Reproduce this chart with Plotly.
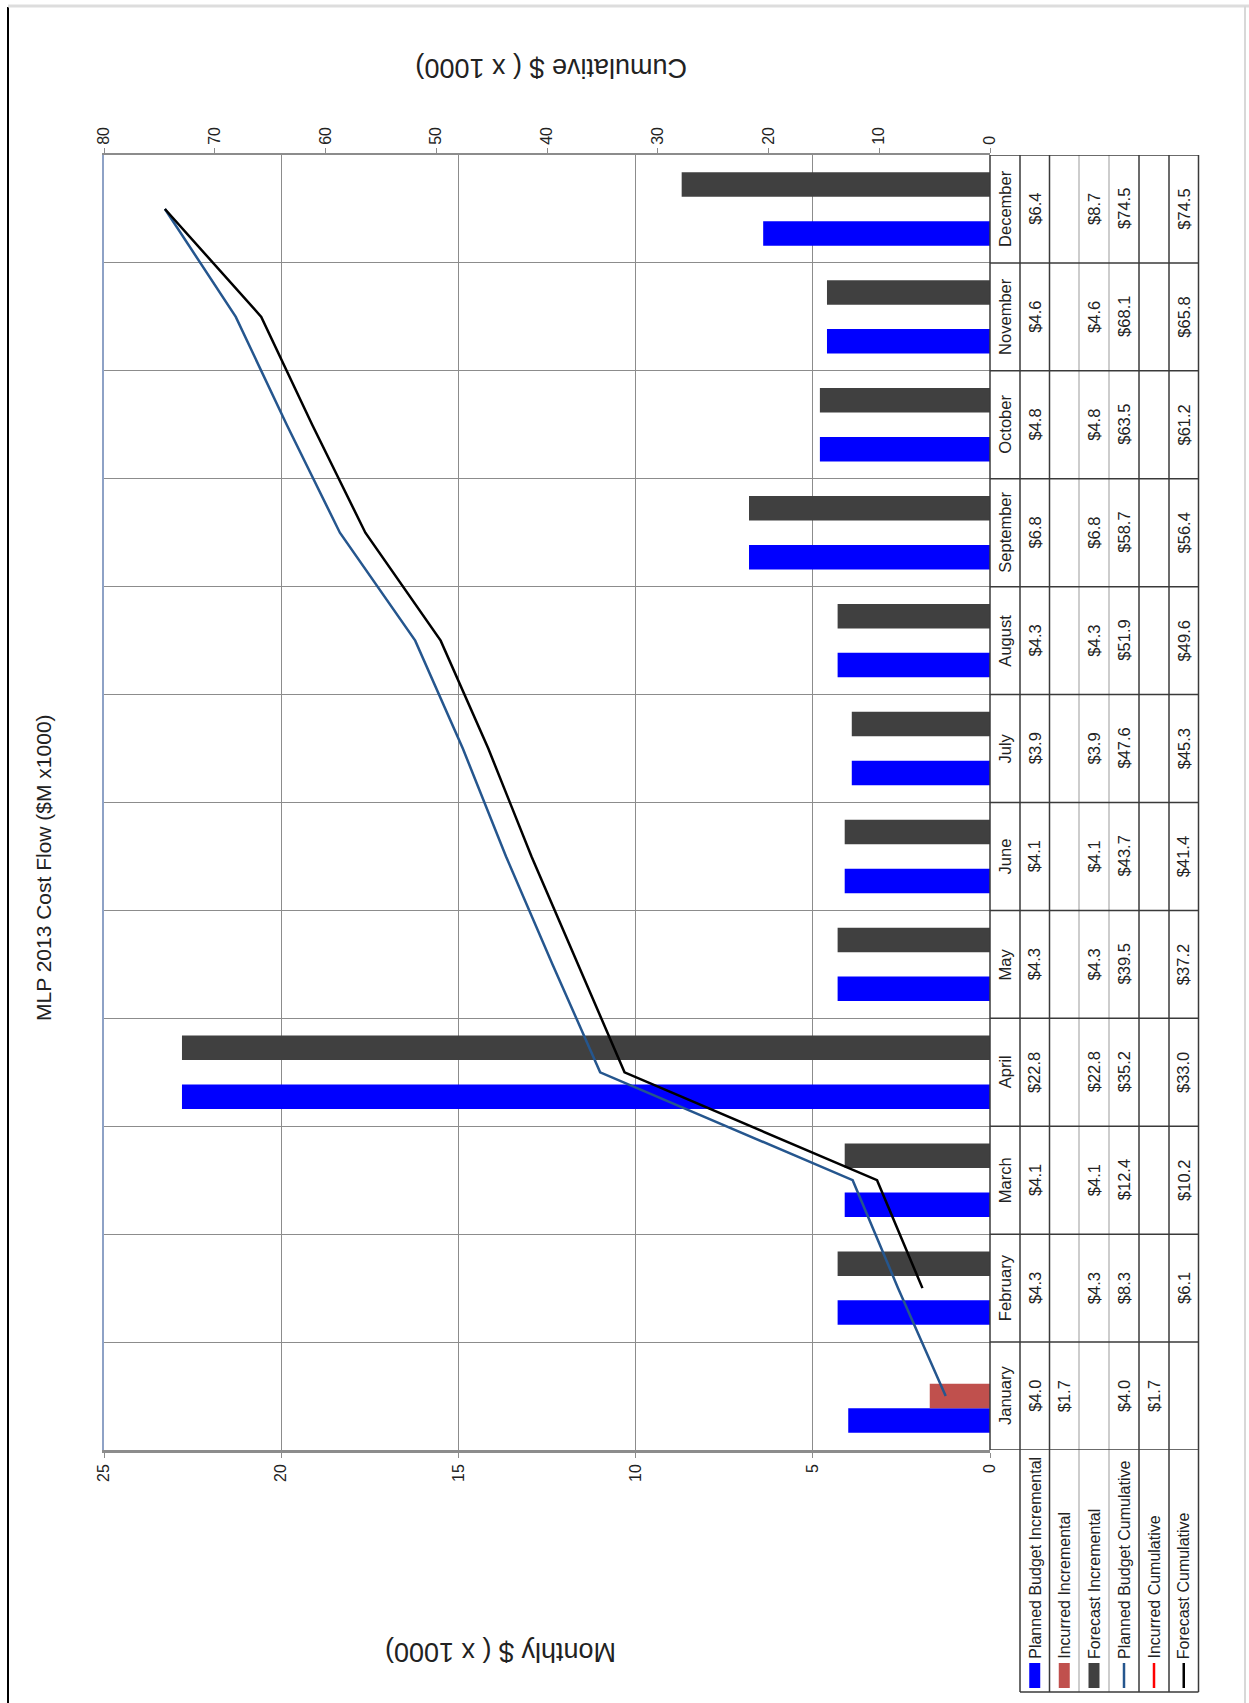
import plotly.graph_objects as go

# ---- data ($M x1000) ----
months = ["January", "February", "March", "April", "May", "June",
          "July", "August", "September", "October", "November", "December"]
planned_inc = [4.0, 4.3, 4.1, 22.8, 4.3, 4.1, 3.9, 4.3, 6.8, 4.8, 4.6, 6.4]
incurred_inc = [1.7, None, None, None, None, None, None, None, None, None, None, None]
forecast_inc = [None, 4.3, 4.1, 22.8, 4.3, 4.1, 3.9, 4.3, 6.8, 4.8, 4.6, 8.7]
planned_cum = [4.0, 8.3, 12.4, 35.2, 39.5, 43.7, 47.6, 51.9, 58.7, 63.5, 68.1, 74.5]
incurred_cum = [1.7, None, None, None, None, None, None, None, None, None, None, None]
forecast_cum = [None, 6.1, 10.2, 33.0, 37.2, 41.4, 45.3, 49.6, 56.4, 61.2, 65.8, 74.5]

series_names = ["Planned Budget Incremental", "Incurred Incremental", "Forecast Incremental",
                "Planned Budget Cumulative", "Incurred Cumulative", "Forecast Cumulative"]
monthly_ticks = [0, 5, 10, 15, 20, 25]
cumulative_ticks = [0, 10, 20, 30, 40, 50, 60, 70, 80]

title_text = "MLP 2013 Cost Flow ($M x1000)"
monthly_title = "Monthly $ ( x 1000)"
cumulative_title = "Cumulative $ ( x 1000)"

# ---- styling ----
FONT = "Liberation Sans, Arial, Helvetica, sans-serif"
C_PLANNED = "#0000FF"
C_INCURRED = "#C0504D"
C_FORECAST = "#404040"
C_PLANNED_CUM = "#25568E"
C_INCURRED_CUM = "#FF0000"
C_FORECAST_CUM = "#000000"
GRID = "#8C8C8C"
TABLE_DARK = "#3A3A3A"
TABLE_LIGHT = "#BDBDBD"
TXT = "#222222"

W, H = 1249, 1703
PX0, PX1 = 104, 990        # plot area left/right (px)
PY0, PY1 = 155, 1450       # plot area top/bottom (px)


def px(x):
    return (x - PX0) / (PX1 - PX0)


def py(y):
    return (PY1 - y) / (PY1 - PY0)


def label(x, y, text, size, angle, xref="paper", yref="paper", yanchor="middle"):
    return dict(x=x, y=y, xref=xref, yref=yref, text=text, textangle=angle,
                showarrow=False, xanchor="center", yanchor=yanchor,
                font=dict(family=FONT, size=size, color=TXT))


fig = go.Figure()

# monthly bars (horizontal, value axis runs right-to-left)
for name, vals, col in [(series_names[0], planned_inc, C_PLANNED),
                        (series_names[1], incurred_inc, C_INCURRED),
                        (series_names[2], forecast_inc, C_FORECAST)]:
    fig.add_trace(go.Bar(x=vals, y=months, orientation="h", name=name,
                         marker=dict(color=col, line=dict(width=0)),
                         xaxis="x", yaxis="y"))

# cumulative lines on the secondary value axis
for name, vals, col in [(series_names[3], planned_cum, C_PLANNED_CUM),
                        (series_names[4], incurred_cum, C_INCURRED_CUM),
                        (series_names[5], forecast_cum, C_FORECAST_CUM)]:
    fig.add_trace(go.Scatter(x=vals, y=months, mode="lines", name=name,
                             line=dict(color=col, width=2.5),
                             xaxis="x2", yaxis="y"))

shapes = []
annotations = []

# data table columns: month name column followed by one column per series
col_edges = [990, 1020, 1049.5, 1079, 1109, 1139, 1169, 1198.5]
col_centers = [(col_edges[i] + col_edges[i + 1]) / 2 for i in range(len(col_edges) - 1)]
light_cols = {3, 4}
TABLE_BOTTOM = 1692

for i, xe in enumerate(col_edges):
    y_end = PY1 if i == 0 else TABLE_BOTTOM
    shapes.append(dict(type="line", xref="paper", yref="paper",
                       x0=px(xe), x1=px(xe), y0=py(PY0), y1=py(y_end),
                       line=dict(color=TABLE_LIGHT if i in light_cols else TABLE_DARK,
                                 width=1.5), layer="above"))

# month boundaries across the table
for k in range(len(months) + 1):
    shapes.append(dict(type="line", xref="paper", yref="y",
                       x0=px(PX1), x1=px(col_edges[-1]), y0=k - 0.5, y1=k - 0.5,
                       line=dict(color=TABLE_DARK, width=1.5), layer="above"))
# legend block border
shapes.append(dict(type="line", xref="paper", yref="paper",
                   x0=px(col_edges[1]), x1=px(col_edges[-1]),
                   y0=py(TABLE_BOTTOM), y1=py(TABLE_BOTTOM),
                   line=dict(color=TABLE_DARK, width=1.5)))

# month names and values in the table
for m in months:
    annotations.append(label(px(col_centers[0]), m, m, 16.5, -90, yref="y"))
table_rows = [planned_inc, incurred_inc, forecast_inc, planned_cum, incurred_cum, forecast_cum]
for r, vals in enumerate(table_rows):
    for m_i, v in enumerate(vals):
        if v is None:
            continue
        annotations.append(label(px(col_centers[r + 1]), months[m_i], f"${v:.1f}", 16.5, -90,
                                 yref="y"))

# legend rows with keys
key_cols = [C_PLANNED, C_INCURRED, C_FORECAST, C_PLANNED_CUM, C_INCURRED_CUM, C_FORECAST_CUM]
for r, name in enumerate(series_names):
    cx = col_centers[r + 1]
    if r < 3:
        shapes.append(dict(type="rect", xref="paper", yref="paper",
                           x0=px(cx - 5.5), x1=px(cx + 5.5), y0=py(1688), y1=py(1663),
                           fillcolor=key_cols[r], line=dict(width=0)))
    else:
        shapes.append(dict(type="line", xref="paper", yref="paper",
                           x0=px(cx), x1=px(cx), y0=py(1688), y1=py(1663),
                           line=dict(color=key_cols[r], width=2.5)))
    annotations.append(label(px(cx), py(1661), name, 16, -90, yanchor="bottom"))

# titles
annotations.append(label(px(43), py(868), title_text, 21, -90))
annotations.append(label(px(551), py(68), cumulative_title, 27, 180))
annotations.append(label(px(501), py(1652), monthly_title, 27, 180))

# page frame
shapes.append(dict(type="line", xref="paper", yref="paper",
                   x0=px(8), x1=px(8), y0=py(7), y1=py(H),
                   line=dict(color="#000000", width=2)))
shapes.append(dict(type="line", xref="paper", yref="paper",
                   x0=px(8), x1=px(W), y0=py(6), y1=py(6),
                   line=dict(color="#DDDDDD", width=3)))
shapes.append(dict(type="line", xref="paper", yref="paper",
                   x0=px(1245), x1=px(1245), y0=py(6), y1=py(H),
                   line=dict(color="#D8D8D8", width=2)))

fig.update_layout(
    width=W, height=H, autosize=False,
    margin=dict(l=PX0, r=W - PX1, t=PY0, b=H - PY1, pad=0),
    paper_bgcolor="white", plot_bgcolor="white",
    barmode="group", bargap=0.32, bargroupgap=0,
    showlegend=False,
    font=dict(family=FONT, color=TXT),
    xaxis=dict(range=[25, 0], tickvals=monthly_ticks, tickangle=-90,
               showgrid=True, gridcolor=GRID, gridwidth=1,
               showline=True, linecolor="#8C8C8C", linewidth=2.5,
               ticks="outside", ticklen=5, tickcolor="#8C8C8C",
               tickfont=dict(family=FONT, size=16, color=TXT),
               zeroline=False, side="bottom"),
    xaxis2=dict(range=[80, 0], tickvals=cumulative_ticks, tickangle=-90,
                overlaying="x", side="top", showgrid=False,
                showline=True, linecolor="#8C8C8C", linewidth=2,
                ticks="outside", ticklen=5, tickcolor="#8C8C8C",
                tickfont=dict(family=FONT, size=16, color=TXT),
                zeroline=False),
    yaxis=dict(type="category", categoryorder="array", categoryarray=months,
               range=[-0.5, 11.5], showticklabels=False, tickson="boundaries",
               showgrid=True, gridcolor=GRID, gridwidth=1,
               showline=True, linecolor="#8EA2C6", linewidth=2,
               ticks="", zeroline=False),
    shapes=shapes,
    annotations=annotations,
)

fig.write_html("out.html")
